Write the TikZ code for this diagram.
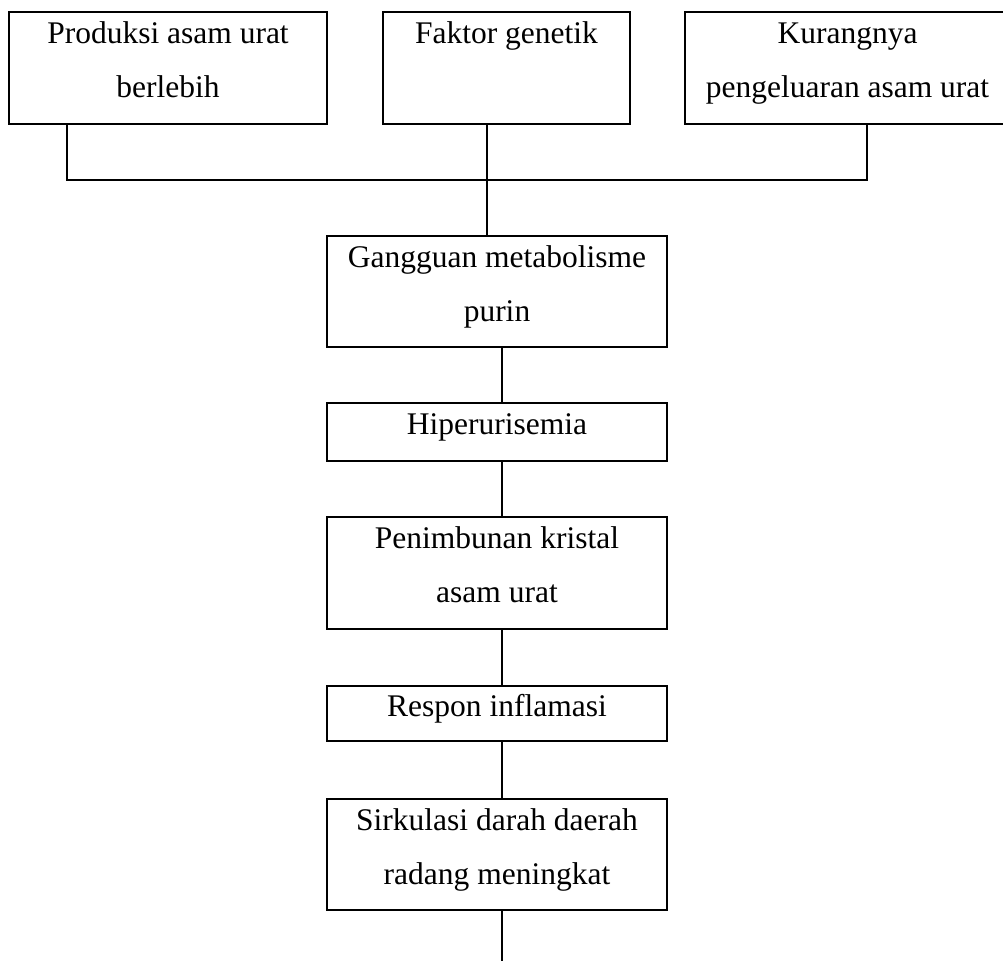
\documentclass[tikz,border=0pt]{standalone}
\usepackage{fontspec}
\setmainfont{Liberation Serif}
\usepackage{tikz}

\tikzset{
    flowbox/.style={draw, line width=1.3pt, align=center, inner sep=0pt,
        font=\fontsize{31.5}{54}\selectfont, text depth=16pt,
        minimum width=340pt},
    flowline/.style={line width=1.3pt}
}

\begin{document}
\begin{tikzpicture}[x=1pt, y=-1pt]
    \useasboundingbox (0,0) rectangle (1003,961);

    % causes
    \node[flowbox, minimum width=318pt, minimum height=112pt] (produksi) at (168,68) {Produksi asam urat\\berlebih};
    \node[flowbox, minimum width=247pt, minimum height=112pt] (genetik) at (506.5,68) {Faktor genetik\\\strut};
    \node[flowbox, minimum width=325pt, minimum height=112pt] (pengeluaran) at (847.5,68) {Kurangnya\\pengeluaran asam urat};

    % chain
    \node[flowbox, minimum height=111pt] (gangguan) at (497,291.5) {Gangguan metabolisme\\purin};
    \node[flowbox, minimum height=58pt] (hiper) at (497,432) {Hiperurisemia};
    \node[flowbox, minimum height=112pt] (kristal) at (497,573) {Penimbunan kristal\\asam urat};
    \node[flowbox, minimum height=55pt] (respon) at (497,713.5) {Respon inflamasi};
    \node[flowbox, minimum height=111pt] (sirkulasi) at (497,854.5) {Sirkulasi darah daerah\\radang meningkat};

    % joins
    \coordinate (jl) at (67,180);
    \coordinate (jm) at (487,180);
    \coordinate (jr) at (867,180);
    \coordinate (axis) at (502,961);

    \draw[flowline] (jl |- produksi.south) -- (jl) -- (jr) -- (jr |- pengeluaran.south);
    \draw[flowline] (jm |- genetik.south) -- (jm |- gangguan.north);
    \draw[flowline] (axis |- gangguan.south) -- (axis |- hiper.north);
    \draw[flowline] (axis |- hiper.south) -- (axis |- kristal.north);
    \draw[flowline] (axis |- kristal.south) -- (axis |- respon.north);
    \draw[flowline] (axis |- respon.south) -- (axis |- sirkulasi.north);
    \draw[flowline] (axis |- sirkulasi.south) -- (axis);
\end{tikzpicture}
\end{document}
